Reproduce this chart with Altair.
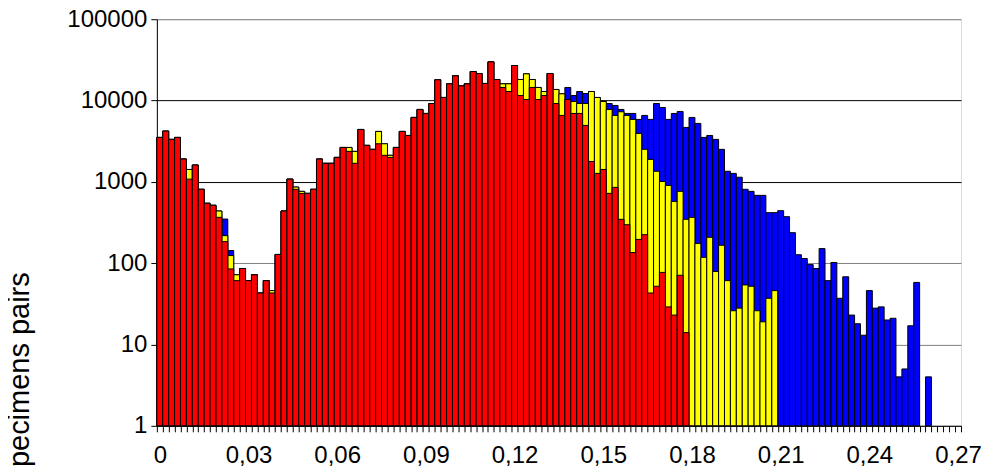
import altair as alt
import pandas as pd

# bin width of each category on the x axis, and number of categories
bin_width = 0.002
n_categories = 136

red = [3520, 4210, 3330, 3520, 1910, 1080, 1610, 810, 545, 515,
       366, 184, 85, 61, 86, 61, 72, 43, 61, 43,
       128, 438, 1080, 810, 722, 722, 810, 1910, 1690, 1690,
       2000, 2650, 2370, 1690, 4410, 2810, 2510, 2940, 2120, 2000,
       2650, 4170, 3720, 6200, 7770, 6940, 9200, 17980, 10910, 16060,
       20140, 15170, 16060, 22760, 21510, 16220, 29910, 18150, 14480, 12920,
       26970, 11540, 10300, 14480, 10300, 11540, 21510, 9200, 6560, 10300,
       6940, 6940, 4940, 1780, 1270, 1420, 722, 855, 346, 297,
       135, 196, 224, 43, 52, 77, 29, 23, 71, 14]

yellow = [3520, 4210, 3330, 3520, 1910, 1420, 1610, 810, 545, 515,
          438, 218, 124, 72, 86, 61, 72, 43, 61, 46,
          128, 438, 1080, 863, 764, 722, 810, 1910, 1690, 1690,
          2000, 2650, 2650, 2370, 4410, 2810, 2510, 4170, 2940, 2120,
          2650, 4170, 3720, 6200, 7770, 6940, 9200, 17980, 10910, 16060,
          20140, 15170, 16060, 22760, 21510, 16220, 29910, 18150, 16060, 16060,
          26970, 18150, 21300, 18150, 14480, 12920, 21510, 13680, 12100, 10300,
          9740, 9200, 9200, 12920, 10910, 9740, 7770, 6560, 7280, 6560,
          5860, 3940, 2510, 1890, 1350, 1010, 905, 575, 764, 346,
          366, 175, 118, 208, 79, 166, 61, 26, 28, 54,
          52, 26, 19, 37, 46]

blue = [3520, 4210, 3330, 3520, 1910, 1420, 1610, 810, 545, 515,
        438, 349, 143, 72, 86, 61, 72, 43, 61, 46,
        128, 438, 1080, 863, 764, 722, 810, 1910, 1690, 1690,
        2000, 2650, 2650, 2370, 4410, 2810, 2510, 4170, 2940, 2120,
        2650, 4170, 3720, 6200, 7770, 6940, 9200, 17980, 10910, 16060,
        20140, 15170, 16060, 22760, 21510, 16220, 29910, 18150, 16060, 16060,
        26970, 18150, 21300, 18150, 14480, 12920, 21510, 13680, 12100, 14480,
        11540, 12920, 12210, 12920, 10910, 9740, 9200, 8700, 7770, 6940,
        6940, 5860, 6560, 5860, 9200, 8220, 5860, 6940, 7340, 4670,
        6200, 5230, 3520, 3720, 3330, 2510, 1350, 1270, 1140, 810,
        764, 682, 682, 418, 418, 442, 373, 237, 127, 114,
        96, 86, 151, 61, 102, 37, 68, 23, 18, 13,
        46, 28, 29, 20, 21, 4, 5, 17, 58, 0,
        4]

x_labels = [0, 0.03, 0.06, 0.09, 0.12, 0.15, 0.18, 0.21, 0.24, 0.27]
y_ticks = [1, 10, 100, 1000, 10000, 100000]

series_colors = {"blue": "#0000FF", "yellow": "#FFFF00", "red": "#FF0000"}

rows = []
for name, vals in (("blue", blue), ("yellow", yellow), ("red", red)):
    for k, v in enumerate(vals):
        if v > 0:
            rows.append({"series": name, "k": k, "value": v})
df = pd.DataFrame(rows)

FONT = "Liberation Sans, Arial, sans-serif"
half = bin_width / 2

# category boundaries (for the small tick marks) plus the labelled category centres
boundaries = [round(k * bin_width - half, 4) for k in range(n_categories + 1)]
x_axis_values = sorted(set(boundaries + x_labels))

xscale = alt.Scale(domain=[-half, (n_categories - 1) * bin_width + half], nice=False, zero=False)
yscale = alt.Scale(type="log", domain=[1, 100000], nice=False)

is_label = "abs(round(datum.value * 1000)) % 2 == 0"

xaxis = alt.Axis(
    values=x_axis_values,
    labelExpr=f"{is_label} ? (datum.value == 0 ? '0' : replace(format(datum.value, '.2f'), '.', ',')) : ''",
    ticks=True, tickSize=6, tickColor="black", tickWidth=1,
    tickOpacity={"condition": {"test": is_label, "value": 0}, "value": 1},
    grid=False,
    domainColor="black", domainWidth=1,
    labelFontSize=24, labelFont=FONT, labelColor="black",
    labelPadding=12, labelFlush=False, labelOverlap=False,
    title="",
)

yaxis = alt.Axis(
    values=y_ticks, format="d",
    tickSize=6, tickColor="black", tickWidth=1,
    domainColor="black", domainWidth=1,
    labelFontSize=24, labelFont=FONT, labelColor="black", labelPadding=4,
    grid=True, gridWidth=1,
    gridColor={"condition": {"test": "datum.value <= 100 || datum.value >= 100000", "value": "#808080"},
               "value": "#000000"},
    title="Specimens pairs", titleFontSize=29, titleFont=FONT, titleFontWeight="normal",
    titleColor="black", titleAngle=270, titleX=-128, titleY=360,
    titleAlign="center", titleBaseline="alphabetic",
)

base = alt.Chart(df).transform_calculate(
    x0=f"datum.k * {bin_width} - {half}",
    x1=f"datum.k * {bin_width} + {half}",
    base="1",
)

layers = []
for name in ["blue", "yellow", "red"]:
    layer = base.transform_filter(f"datum.series == '{name}'").mark_bar(
        fill=series_colors[name], stroke="black", strokeWidth=1, opacity=1
    ).encode(
        x=alt.X("x0:Q", scale=xscale, axis=xaxis),
        x2="x1:Q",
        y=alt.Y("value:Q", scale=yscale, axis=yaxis),
        y2="base:Q",
    )
    layers.append(layer)

chart = alt.layer(*layers).properties(
    width=805, height=407,
    autosize=alt.AutoSizeParams(type="none"),
    padding={"left": 149, "top": 11, "right": 20, "bottom": 40},
).configure_view(
    stroke="#808080", strokeWidth=1
).configure(background="white")

chart.save("out.html", embed_options={"renderer": "svg", "actions": False})
